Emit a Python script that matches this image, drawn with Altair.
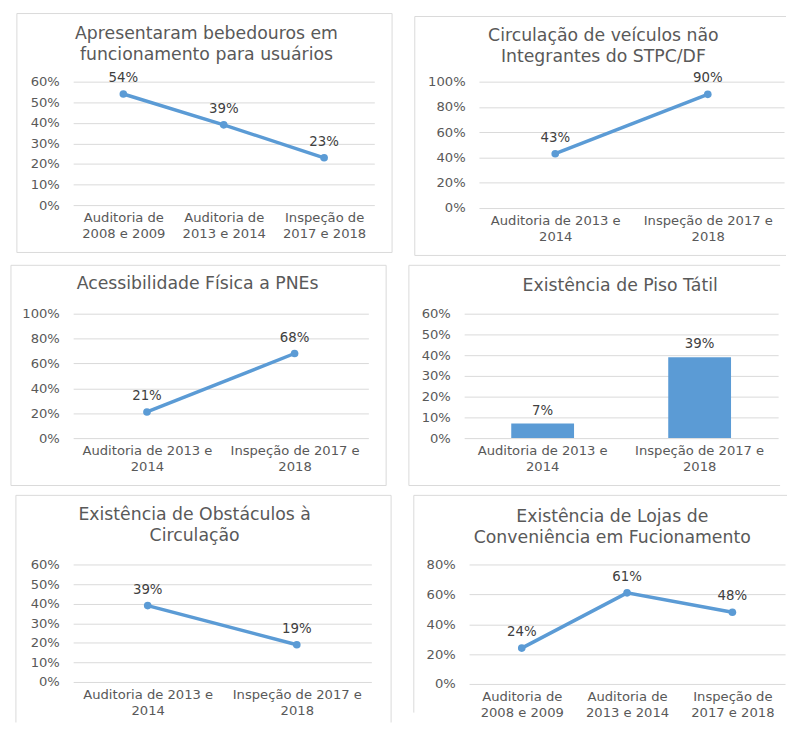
import altair as alt
import pandas as pd

# ---------------- data ----------------
t1 = ["Apresentaram bebedouros em", "funcionamento para usuários"]
c1 = ["Auditoria de\n2008 e 2009", "Auditoria de\n2013 e 2014", "Inspeção de\n2017 e 2018"]
v1 = [0.54, 0.39, 0.23]

t2 = ["Circulação de veículos não", "Integrantes do STPC/DF"]
c2 = ["Auditoria de 2013 e\n2014", "Inspeção de 2017 e\n2018"]
v2 = [0.43, 0.90]

t3 = ["Acessibilidade Física a PNEs"]
c3 = ["Auditoria de 2013 e\n2014", "Inspeção de 2017 e\n2018"]
v3 = [0.21, 0.68]

t4 = ["Existência de Piso Tátil"]
c4 = ["Auditoria de 2013 e\n2014", "Inspeção de 2017 e\n2018"]
v4 = [0.07, 0.39]

t5 = ["Existência de Obstáculos à", "Circulação"]
c5 = ["Auditoria de 2013 e\n2014", "Inspeção de 2017 e\n2018"]
v5 = [0.39, 0.19]

t6 = ["Existência de Lojas de", "Conveniência em Fucionamento"]
c6 = ["Auditoria de\n2008 e 2009", "Auditoria de\n2013 e 2014", "Inspeção de\n2017 e 2018"]
v6 = [0.24, 0.61, 0.48]

ticks_10_60 = [0, 0.1, 0.2, 0.3, 0.4, 0.5, 0.6]
ticks_20_100 = [0, 0.2, 0.4, 0.6, 0.8, 1.0]
ticks_20_80 = [0, 0.2, 0.4, 0.6, 0.8]

# ---------------- style ----------------
BLUE = "#5B9BD5"
GRAY = "#595959"
DARK = "#404040"
GRID = "#D9D9D9"
FONT = "DejaVu Sans"
LBL = 13.3


def panel(title, cats, vals, ticks, w, h, frame, sides, tx, tys, kind="line"):
    df = pd.DataFrame({"cat": cats, "val": vals})
    if kind == "line":
        xscale = alt.Scale(type="point", padding=0.5)
    else:
        xscale = alt.Scale(type="band", paddingInner=0.6, paddingOuter=0.3)
    x = alt.X("cat:N", sort=cats, scale=xscale,
              axis=alt.Axis(title=None, labelExpr="split(datum.label, '\\n')",
                            labelAngle=0, ticks=False, domain=False, grid=False,
                            labelPadding=6, labelLineHeight=16, labelFont=FONT,
                            labelFontSize=LBL, labelColor=GRAY))
    y = alt.Y("val:Q", scale=alt.Scale(domain=[ticks[0], ticks[-1]], nice=False),
              axis=alt.Axis(title=None, values=ticks, format=".0%", ticks=False,
                            domain=False, grid=True, gridColor=GRID, gridWidth=1,
                            labelPadding=14, labelFont=FONT, labelFontSize=LBL,
                            labelColor=GRAY))
    base = alt.Chart(df).encode(x=x, y=y)
    if kind == "line":
        mark = base.mark_line(color=BLUE, strokeWidth=3.5,
                              point=alt.OverlayMarkDef(color=BLUE, size=60, filled=True, opacity=1))
        lab = base.mark_text(dy=-16, fontSize=13.5, color=DARK, font=FONT).encode(
            text=alt.Text("val:Q", format=".0%"))
    else:
        mark = base.mark_bar(color=BLUE)
        lab = base.mark_text(dy=-13, fontSize=13.5, color=DARK, font=FONT).encode(
            text=alt.Text("val:Q", format=".0%"))
    one = alt.Data(values=[{}])
    fl, fr_, ft, fb = frame
    segs = []
    if "t" in sides:
        segs.append((fl, fr_, ft, ft))
    if "l" in sides:
        segs.append((fl, fl, ft, fb))
    if "r" in sides:
        segs.append((fr_, fr_, ft, fb))
    if "b" in sides:
        segs.append((fl, fr_, fb, fb))
    frames = [
        alt.Chart(one).mark_rule(stroke=GRID, strokeWidth=1).encode(
            x=alt.value(a), x2=alt.value(b), y=alt.value(c), y2=alt.value(d))
        for a, b, c, d in segs
    ]
    titles = [
        alt.Chart(one).mark_text(fontSize=17.5, color=GRAY, font=FONT, baseline="middle").encode(
            x=alt.value(tx), y=alt.value(ty), text=alt.value(line))
        for line, ty in zip(title, tys)
    ]
    return alt.layer(*frames, mark, lab, *titles).properties(width=w, height=h)


p1 = panel(t1, c1, v1, ticks_10_60, 305, 125, (-57, 323, -69, 173), "tlrb", 135, (-48, -27))
p2 = panel(t2, c2, v2, ticks_20_100, 309, 128, (-65, 311, -66, 176), "tlb", 126, (-46, -25))
p3 = panel(t3, c3, v3, ticks_20_100, 299, 126, (-63, 317, -49, 174), "tlrb", 126, (-30,))
p4 = panel(t4, c4, v4, ticks_10_60, 318, 126, (-56, 320, -49, 174), "tlb", 158, (-28,), kind="bar")
p5 = panel(t5, c5, v5, ticks_10_60, 302, 119, (-58, 322, -70, 160), "tlr", 123, (-50, -29))
p6 = panel(t6, c6, v6, ticks_20_80, 320, 121, (-56, 322, -70, 150), "tl", 145, (-48, -27))

chart = alt.vconcat(
    alt.hconcat(p1, p2, spacing=21),
    alt.hconcat(p3, p4, spacing=21),
    alt.hconcat(p5, p6, spacing=21),
    spacing=8,
).properties(
    padding={"left": 2, "top": 0, "right": 0, "bottom": 0}
).configure_view(stroke=None)

chart.save("out.html", embed_options={"renderer": "svg", "actions": False})
